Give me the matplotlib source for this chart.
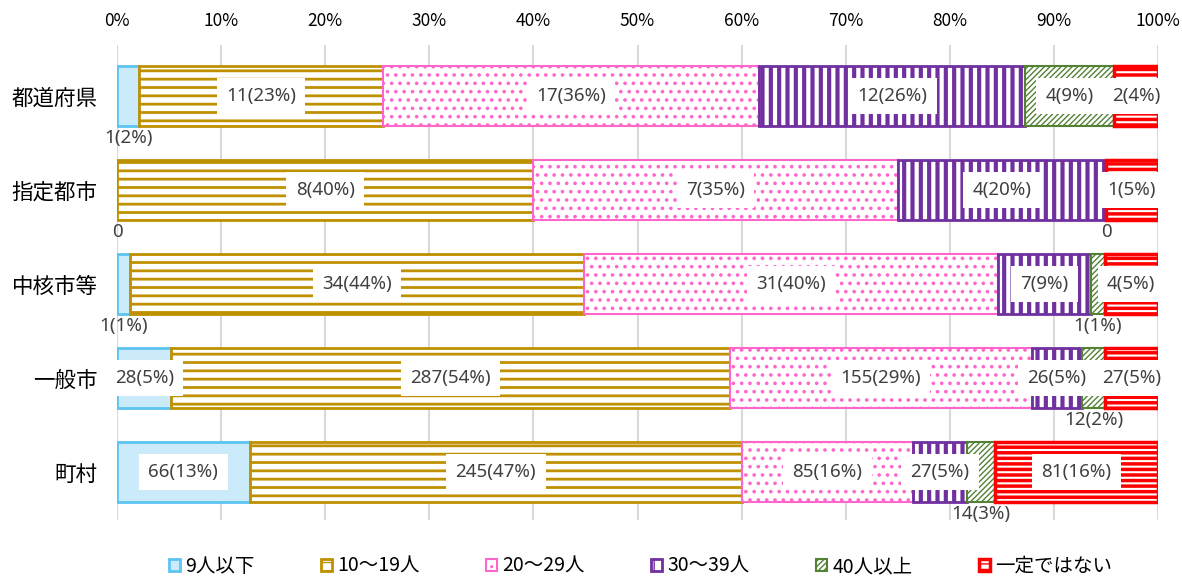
import matplotlib
matplotlib.use("Agg")
import matplotlib.pyplot as plt
import numpy as np

plt.rcParams['font.family'] = ['Noto Sans CJK JP', 'DejaVu Sans']

categories = ["都道府県", "指定都市", "中核市等", "一般市", "町村"]
series = ["9人以下", "10〜19人", "20〜29人", "30〜39人", "40人以上", "一定ではない"]
counts = {
    "9人以下":   [1, 0, 1, 28, 66],
    "10〜19人":  [11, 8, 34, 287, 245],
    "20〜29人":  [17, 7, 31, 155, 85],
    "30〜39人":  [12, 4, 7, 26, 27],
    "40人以上":  [4, 0, 1, 12, 14],
    "一定ではない": [2, 1, 4, 27, 81],
}
xticklabels = ["0%", "10%", "20%", "30%", "40%", "50%", "60%", "70%", "80%", "90%", "100%"]

styles = {
    "9人以下":   dict(fc="#CCEBFA", ec="#5BC4F1", hatch=None, lw=2.0, hlw=1.0),
    "10〜19人":  dict(fc="white", ec="#BF9000", hatch="--", lw=2.0, hlw=2.0),
    "20〜29人":  dict(fc="white", ec="#FF66CC", hatch="..", lw=1.5, hlw=1.4),
    "30〜39人":  dict(fc="white", ec="#7030A0", hatch="||", lw=2.0, hlw=3.0),
    "40人以上":  dict(fc="white", ec="#548235", hatch="//////", lw=1.5, hlw=1.0),
    "一定ではない": dict(fc="white", ec="#FF0000", hatch="---", lw=2.5, hlw=2.5),
}

fig = plt.figure(figsize=(11.82, 5.79), dpi=100)
ax = fig.add_axes([117/1182, 1 - 520/579, (1158-117)/1182, (520-45)/579])

n_cat = len(categories)
y = np.arange(n_cat)
totals = np.sum([counts[s] for s in series], axis=0)
left = np.zeros(n_cat)
bar_h = 0.63

for s in series:
    vals = np.array(counts[s], dtype=float)
    pct = vals / totals * 100
    st = styles[s]
    with plt.rc_context({'hatch.linewidth': st['hlw']}):
        bars = ax.barh(y, pct, left=left, height=bar_h, color=st['fc'],
                       edgecolor=st['ec'], hatch=st['hatch'], linewidth=st['lw'],
                       label=s, zorder=2)
    for b in bars:
        try:
            b.set_hatch_linewidth(st['hlw'])
        except Exception:
            pass
    for i in range(n_cat):
        n = int(counts[s][i])
        p = pct[i]
        cx = left[i] + p / 2
        if n == 0:
            txt = "0"
        else:
            txt = f"{n}({int(round(p))}%)"
        if p < 4:
            ax.text(cx, y[i] + bar_h / 2 + 0.04, txt, ha='center', va='top',
                    fontsize=13.5, color="#404040", family=['Noto Sans', 'DejaVu Sans'],
                    zorder=4)
        else:
            ax.text(cx, y[i], txt, ha='center', va='center', fontsize=13.5,
                    color="#404040", family=['Noto Sans', 'DejaVu Sans'], zorder=4,
                    bbox=dict(boxstyle='square,pad=0.5', fc='white', ec='none'))
    left = left + pct

ax.set_xlim(0, 100)
ax.set_ylim(n_cat - 1 + 0.51, -0.543)
ax.set_xticks(np.arange(0, 101, 10))
ax.set_xticklabels(xticklabels, fontsize=12.5)
ax.xaxis.tick_top()
ax.tick_params(axis='x', length=0, pad=11)
ax.set_yticks(y)
ax.set_yticklabels(categories, fontsize=15.5)
ax.tick_params(axis='y', length=0, pad=14)
for sp in ax.spines.values():
    sp.set_visible(False)
ax.grid(axis='x', color="#D9D9D9", linewidth=1.5, zorder=0)
ax.set_axisbelow(True)

leg = fig.legend(loc='lower center', bbox_to_anchor=(0.542, -0.02), ncol=6, frameon=False,
                 fontsize=14, handlelength=0.55, handleheight=0.55, handletextpad=0.3,
                 columnspacing=3.4, borderaxespad=0.3)

fig.savefig("out.png", dpi=100)
